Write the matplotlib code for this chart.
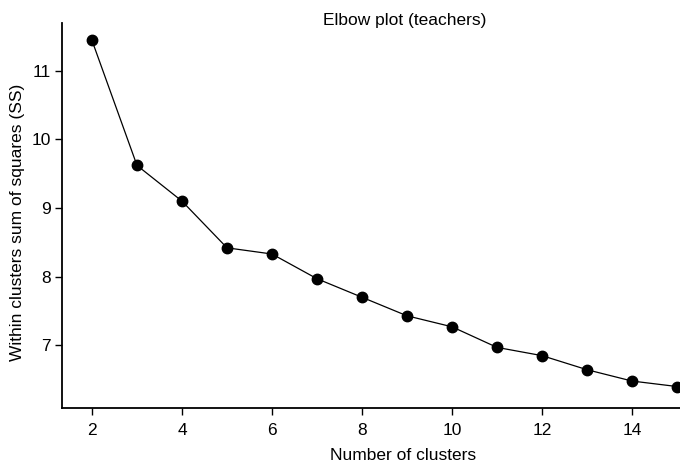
import matplotlib
matplotlib.use('Agg')
import matplotlib.pyplot as plt
from matplotlib import font_manager

clusters = [2, 3, 4, 5, 6, 7, 8, 9, 10, 11, 12, 13, 14, 15]
within_ss = [11.44, 9.62, 9.10, 8.42, 8.33, 7.97, 7.70, 7.43, 7.27, 6.97, 6.85, 6.645, 6.48, 6.40]
x_ticks = [2, 4, 6, 8, 10, 12, 14]
y_ticks = [7, 8, 9, 10, 11]

names = {f.name for f in font_manager.fontManager.ttflist}
family = 'Liberation Sans Narrow' if 'Liberation Sans Narrow' in names else 'Liberation Sans'
plt.rcParams['font.family'] = [family, 'DejaVu Sans']

fig = plt.figure(figsize=(6.8, 4.66), dpi=100)
W, H = 680, 466
ax = fig.add_axes([62 / W, 1 - 408 / H, (680 - 62) / W, (408 - 23) / H])

ax.plot(clusters, within_ss, color='black', linewidth=0.9, marker='o',
        markersize=7.5, clip_on=False, zorder=3)

ax.set_xlim(2 - 30 / 45, 2 + 588 / 45)
ax.set_ylim(7 - 62.7 / 68.7, 11 + 47.7 / 68.7)
ax.set_xticks(x_ticks)
ax.set_yticks(y_ticks)
ax.tick_params(direction='out', length=5, width=1, labelsize=12.5, color='black')
ax.tick_params(axis='x', pad=6)
ax.tick_params(axis='y', pad=3)

for side in ['top', 'right']:
    ax.spines[side].set_visible(False)
for side in ['left', 'bottom']:
    ax.spines[side].set_linewidth(1.3)

ax.set_xlabel('Number of clusters', fontsize=12.5)
ax.xaxis.set_label_coords((403 - 62) / (680 - 62), -(455 - 408) / (408 - 23), transform=ax.transAxes)
ax.xaxis.label.set_va('center')
ax.set_ylabel('Within clusters sum of squares (SS)', fontsize=12.5)
ax.yaxis.set_label_coords(-(62 - 18) / (680 - 62), (408 - 222) / (408 - 23), transform=ax.transAxes)
ax.yaxis.label.set_va('center')

fig.text(405 / W, 1 - 20 / H, 'Elbow plot (teachers)', ha='center', va='center', fontsize=12.5)

fig.savefig('out.png', dpi=100)
